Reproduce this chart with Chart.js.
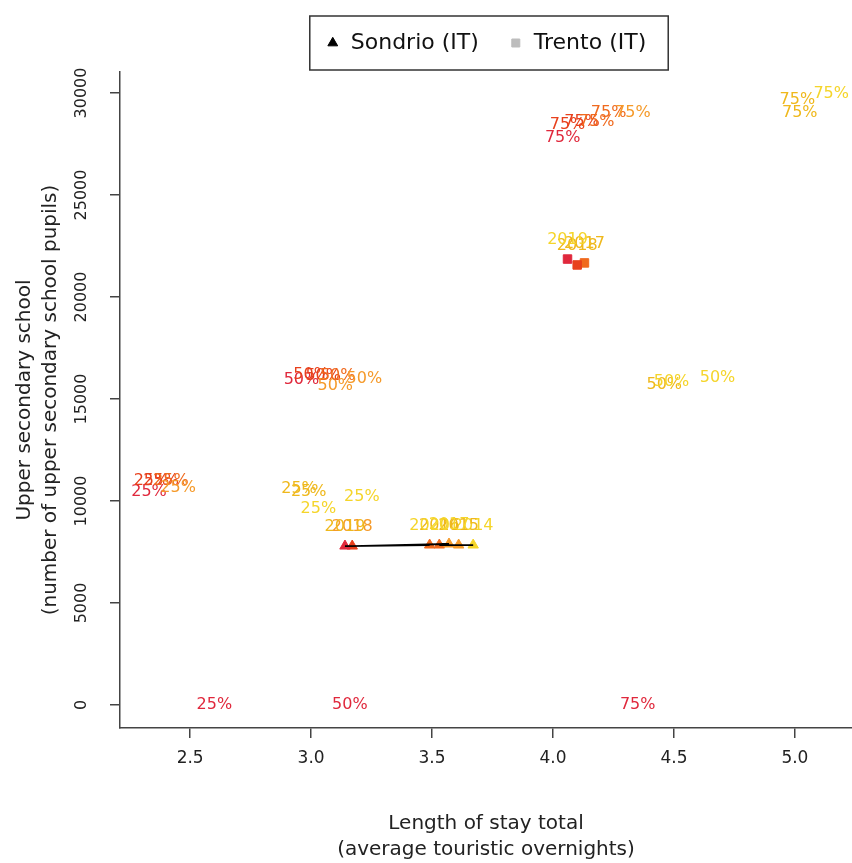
<!DOCTYPE html>
<html>
<head>
<meta charset="utf-8">
<script src="https://cdn.jsdelivr.net/npm/chart.js@4/dist/chart.umd.min.js"></script>
<style>
  html, body { margin: 0; padding: 0; background: #fff; }
</style>
</head>
<body>
<canvas id="chart" width="852" height="863"></canvas>
<script>
// Sondrio (IT): length of stay vs upper secondary pupils, per year
const sondrioYears = ["2014", "2015", "2016", "2017", "2018", "2019", "2020"];
const sondrioStay = [3.67, 3.61, 3.53, 3.57, 3.17, 3.14, 3.49];
const sondrioPupils = [7840, 7840, 7840, 7890, 7790, 7790, 7840];
const sondrioShade = [5, 3, 2, 3, 1, 0, 2];
const sondrioLabelShade = [5, 4, 4, 5, 3, 4, 5];

// Trento (IT)
const trentoYears = ["2017", "2018", "2019"];
const trentoStay = [4.13, 4.10, 4.06];
const trentoPupils = [21670, 21570, 21860];
const trentoShade = [2, 1, 0];
const trentoLabelShade = [4, 4, 5];

// quantile labels (25% / 50% / 75%)
const qText = ["25%", "50%", "75%",
  "25%", "25%", "25%", "25%", "25%",
  "25%", "25%", "25%", "25%",
  "50%", "50%", "50%", "50%", "50%", "50%",
  "50%", "50%", "50%",
  "75%", "75%", "75%", "75%", "75%", "75%",
  "75%", "75%", "75%"];
const qStay = [2.60, 3.16, 4.35,
  2.33, 2.34, 2.38, 2.42, 2.45,
  2.95, 2.99, 3.03, 3.21,
  2.96, 3.00, 3.05, 3.10, 3.11, 3.22,
  4.46, 4.49, 4.68,
  4.04, 4.06, 4.12, 4.18, 4.23, 4.33,
  5.01, 5.02, 5.15];
const qPupils = [0, 0, 0,
  10440, 10980, 10980, 10980, 10640,
  10590, 10440, 9610, 10200,
  15930, 16180, 16130, 15640, 16130, 15980,
  15690, 15830, 16030,
  27790, 28430, 28580, 28580, 29020, 29020,
  29660, 29020, 29950];
const qShade = [0, 0, 0,
  0, 1, 1, 2, 3,
  4, 4, 5, 5,
  0, 1, 1, 3, 2, 3,
  4, 5, 5,
  0, 1, 1, 2, 2, 3,
  4, 4, 5];

const xTicks = [2.5, 3.0, 3.5, 4.0, 4.5, 5.0];
const yTicks = [0, 5000, 10000, 15000, 20000, 25000, 30000];

// red -> yellow palette
const shades = ["#e0283c", "#e8401c", "#f06a1e", "#f59a2a", "#efb81c", "#f5d52a"];
const FONT = "'DejaVu Sans', sans-serif";

const textLabels = {
  id: "textLabels",
  afterDatasetsDraw(chart) {
    const { ctx, scales: { x, y } } = chart;
    ctx.save();
    ctx.textAlign = "center";
    ctx.textBaseline = "middle";
    ctx.font = "16px " + FONT;
    qText.forEach((t, i) => {
      ctx.fillStyle = shades[qShade[i]];
      ctx.fillText(t, x.getPixelForValue(qStay[i]), y.getPixelForValue(qPupils[i]));
    });
    sondrioYears.forEach((t, i) => {
      ctx.fillStyle = shades[sondrioLabelShade[i]];
      ctx.fillText(t, x.getPixelForValue(sondrioStay[i]), y.getPixelForValue(sondrioPupils[i]) - 19);
    });
    trentoYears.forEach((t, i) => {
      ctx.fillStyle = shades[trentoLabelShade[i]];
      ctx.fillText(t, x.getPixelForValue(trentoStay[i]), y.getPixelForValue(trentoPupils[i]) - 19);
    });
    ctx.restore();
  }
};

// box round the legend, like R's legend(); legend height fixed so the plot starts at the right place
const legendBox = {
  id: "legendBox",
  afterInit(chart) {
    const lg = chart.legend;
    const fit = lg.fit;
    lg.fit = function () { fit.call(this); this.height = 70; };
  },
  afterDraw(chart) {
    const boxes = chart.legend && chart.legend.legendHitBoxes;
    if (!boxes || !boxes.length) return;
    const left = Math.min(...boxes.map(b => b.left)) - 16;
    const right = Math.max(...boxes.map(b => b.left + b.width)) + 22;
    const cy = boxes[0].top + boxes[0].height / 2;
    const ctx = chart.ctx;
    ctx.save();
    ctx.strokeStyle = "#333";
    ctx.lineWidth = 1.5;
    ctx.strokeRect(left, cy - 27, right - left, 54);
    ctx.restore();
  }
};

const sondrioPath = sondrioYears.map((yr, i) => ({ x: sondrioStay[i], y: sondrioPupils[i] }));

new Chart(document.getElementById("chart"), {
  type: "scatter",
  data: {
    datasets: [
      {
        label: "path",
        data: sondrioPath,
        showLine: true,
        borderColor: "#000",
        borderWidth: 1.8,
        pointRadius: 0,
        order: 0,
      },
      {
        label: "Sondrio (IT)",
        data: sondrioYears.map((yr, i) => ({ x: sondrioStay[i], y: sondrioPupils[i] })),
        pointStyle: "triangle",
        pointRadius: 6,
        backgroundColor: sondrioShade.map(s => shades[s]),
        borderColor: sondrioShade.map(s => shades[s]),
        order: 1,
      },
      {
        label: "Trento (IT)",
        data: trentoYears.map((yr, i) => ({ x: trentoStay[i], y: trentoPupils[i] })),
        pointStyle: "rect",
        pointRadius: 6,
        backgroundColor: trentoShade.map(s => shades[s]),
        borderColor: trentoShade.map(s => shades[s]),
        order: 2,
      },
    ],
  },
  options: {
    responsive: false,
    animation: false,
    devicePixelRatio: 1,
    layout: { autoPadding: false, padding: { top: 2, left: 0, right: 0, bottom: 0 } },
    plugins: {
      tooltip: { enabled: false },
      legend: {
        position: "top",
        fullSize: false,
        labels: {
          usePointStyle: true,
          boxWidth: 14,
          boxHeight: 8,
          padding: 30,
          color: "#111",
          font: { family: FONT, size: 22 },
          generateLabels(chart) {
            const items = Chart.defaults.plugins.legend.labels.generateLabels(chart);
            return items.filter(it => it.datasetIndex > 0).map(it => {
              const c = it.datasetIndex === 1 ? "#000" : "#bdbdbd";
              return { ...it, fillStyle: c, strokeStyle: c };
            });
          },
        },
      },
    },
    scales: {
      x: {
        type: "linear",
        min: 2.21,
        max: 5.236,
        afterBuildTicks: (s) => { s.ticks = xTicks.map(v => ({ value: v })); },
        afterFit: (s) => { s.height = 135; s.paddingLeft = 0; s.paddingRight = 0; },
        grid: { drawOnChartArea: false, drawTicks: true, tickLength: 10, color: "#444", lineWidth: 1.5 },
        border: { display: true, color: "#444", width: 1.5 },
        ticks: {
          padding: 10,
          color: "#222",
          font: { family: FONT, size: 17 },
          callback: (v) => Number(v).toFixed(1),
        },
        title: {
          display: true,
          text: ["Length of stay total", "(average touristic overnights)"],
          color: "#222",
          font: { family: FONT, size: 20, lineHeight: "26px" },
          padding: { top: 0, bottom: 0 },
        },
      },
      y: {
        type: "linear",
        min: -1130,
        max: 31030,
        afterBuildTicks: (s) => { s.ticks = yTicks.map(v => ({ value: v })); },
        afterFit: (s) => { s.width = 120; },
        grid: { drawOnChartArea: false, drawTicks: true, tickLength: 10, color: "#444", lineWidth: 1.5 },
        border: { display: true, color: "#444", width: 1.5 },
        ticks: {
          padding: 3,
          minRotation: 90,
          maxRotation: 90,
          crossAlign: "center",
          color: "#222",
          font: { family: FONT, size: 16 },
          callback: (v) => String(v),
        },
        title: {
          display: true,
          text: ["Upper secondary school", "(number of upper secondary school pupils)"],
          color: "#222",
          font: { family: FONT, size: 20, lineHeight: "26px" },
          padding: { top: 12, bottom: 0 },
        },
      },
    },
  },
  plugins: [textLabels, legendBox],
});
</script>
</body>
</html>
